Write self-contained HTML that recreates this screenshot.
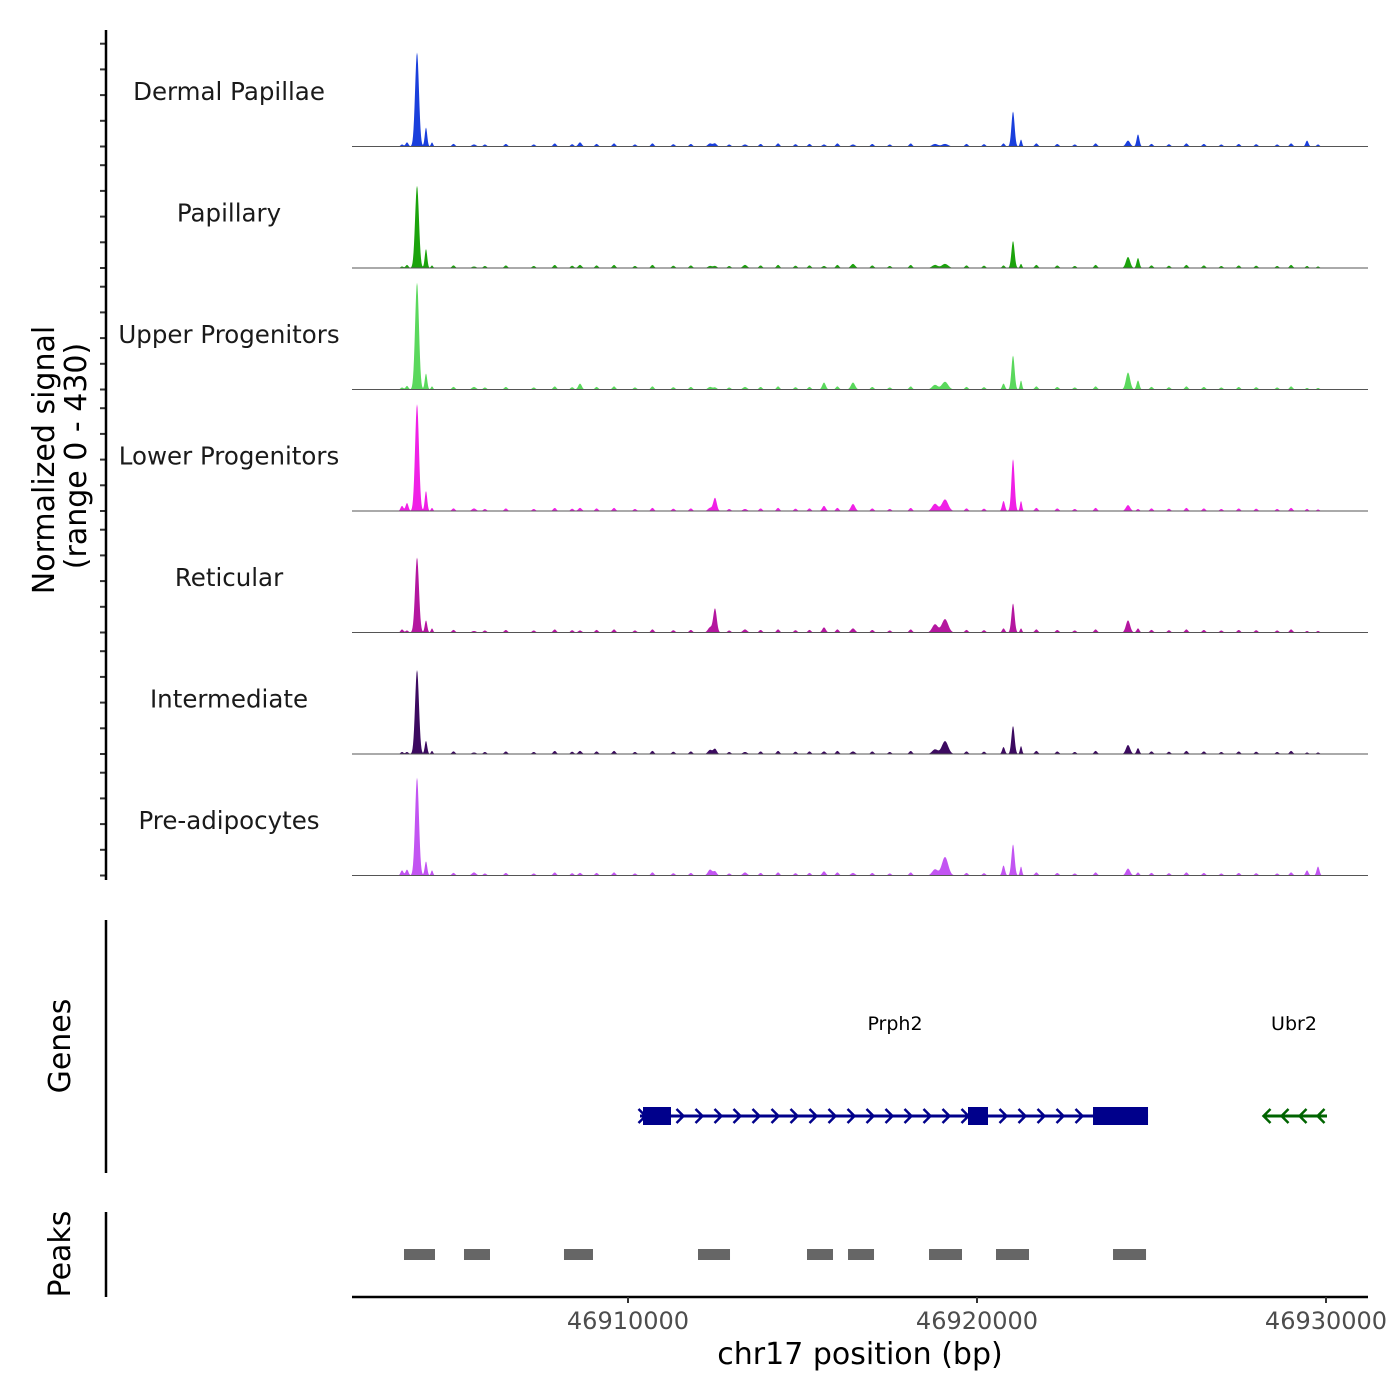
<!DOCTYPE html>
<html><head><meta charset="utf-8"><style>
html,body{margin:0;padding:0;background:#fff;}
svg{display:block;font-family:"DejaVu Sans","Liberation Sans",sans-serif;}
</style></head><body>
<svg id="chart" width="1400" height="1400" viewBox="0 0 1400 1400" xmlns="http://www.w3.org/2000/svg"></svg>
<script>
const trackNames = ["Dermal Papillae","Papillary","Upper Progenitors","Lower Progenitors","Reticular","Intermediate","Pre-adipocytes"];
const trackColors = ["#1a3fdc","#1ba30c","#5ad85c","#f020e6","#b4169f","#3c0a60","#c254f2"];
const peakPos = [46903525,46903668,46903955,46904212,46904384,46905588,46908625,46912493,46912350,46913352,46915616,46916447,46919083,46918796,46920760,46921032,46921261,46924327,46924613,46929456,46929771];
const peakSigma = [40,40,55,35,30,60,50,50,60,60,50,60,90,80,40,45,30,60,40,40,40];
const dpVals  = [8,16,366,74,16,8,16,12,12,8,8,8,10,10,12,136,27,23,47,23,8];
const papVals = [6,12,320,74,10,6,12,8,8,12,8,16,16,12,10,105,16,43,39,8,6];
const upVals  = [8,14,416,62,12,10,23,8,10,10,27,27,30,18,23,132,35,66,35,6,6];
const lowVals = [20,31,416,78,12,10,12,51,12,8,20,27,45,28,39,202,39,23,8,8,6];
const retVals = [12,8,292,47,16,6,8,93,20,12,20,16,52,32,16,113,16,47,16,6,6];
const intVals = [8,8,327,51,12,6,12,20,16,8,10,10,50,18,27,109,31,35,23,6,6];
const preVals = [20,23,381,55,20,12,10,16,23,12,16,10,72,24,39,121,35,27,12,20,35];
const trackValues = [dpVals,papVals,upVals,lowVals,retVals,intVals,preVals];
const noisePos = [46905000,46905900,46906500,46907300,46907900,46908400,46909100,46909600,46910200,46910700,46911300,46911800,46912900,46913800,46914300,46914800,46915200,46916000,46917000,46917500,46918100,46919700,46920200,46921700,46922300,46922800,46923400,46925000,46925500,46926000,46926500,46927000,46927500,46928000,46928600,46929000];
const noiseVals = [10,8,10,8,12,9,10,12,8,12,9,10,8,10,12,9,10,12,10,8,12,10,9,12,10,8,12,10,9,12,10,8,10,9,8,12];
const tickLabels = ["46910000","46920000","46930000"];
const tickValues = [46910000,46920000,46930000];
const geneNames = ["Prph2","Ubr2"];
const geneStarts = [46910344,46928252];
const geneEnds = [46924900,46930028];
const geneStrands = [1,-1];
const exonStarts = [46910430,46919742,46923324];
const exonEnds = [46911232,46920315,46924900];
const peakStarts = [46903582,46905301,46908166,46912006,46915129,46916304,46918625,46920544,46923897];
const peakEnds = [46904470,46906046,46908997,46912923,46915874,46917049,46919570,46921490,46924843];

const svg = document.getElementById('chart');
const NS = 'http://www.w3.org/2000/svg';
function mk(tag, attrs, parent){const e=document.createElementNS(NS,tag);for(const k in attrs)e.setAttribute(k,attrs[k]);(parent||svg).appendChild(e);return e;}
const X0=352,X1=1368,BP0=46902092,BP1=46931203;
const xs = bp => X0 + (bp-BP0)*(X1-X0)/(BP1-BP0);
const trackH=121.5, trackTop=25, unitPx=0.257;
const ys = (i,v) => trackTop + (i+1)*trackH - v*unitPx;

for(let i=0;i<trackNames.length;i++){
  const g=mk('g',{});
  
  
  const vals=trackValues[i];
  const base=ys(i,0);
  let d='M'+xs(46903400)+','+base;
  const firstX=Math.round(xs(46903400)), lastX=Math.round(xs(46929950));
  for(let px=firstX;px<=lastX;px+=0.5){
    const bp=BP0+(px-X0)*(BP1-BP0)/(X1-X0);
    let v=0;
    for(let k=0;k<peakPos.length;k++){const z=(bp-peakPos[k])/peakSigma[k];if(Math.abs(z)<5)v+=vals[k]*Math.exp(-0.5*z*z);}
    for(let k=0;k<noisePos.length;k++){const z=(bp-noisePos[k])/45;if(Math.abs(z)<5)v+=noiseVals[k]*Math.exp(-0.5*z*z);}
    d+=' L'+px+','+ys(i,v).toFixed(2);
  }
  d+=' L'+lastX+','+base+' Z';
  const p=mk('path',{d:d,fill:trackColors[i],stroke:'none'},g);
  
  
  const bl=mk('line',{x1:X0,x2:X1,y1:base,y2:base,stroke:'#555',"stroke-width":1},g);
  
  
  const t=mk('text',{x:229,y:trackTop+i*trackH+75,'text-anchor':'middle','font-size':24.5,fill:'#1a1a1a'},g);
  t.textContent=trackNames[i];
  
  
  for(let k=0;k<5;k++){
    const ty=base-k*100*unitPx;
    const tk=mk('line',{x1:100,x2:106,y1:ty,y2:ty,stroke:'#333','stroke-width':2},g);
    
    
  }
}
[[30,880,'signal-y-axis'],[920,1173,'genes-y-axis'],[1212,1297,'peaks-y-axis']].forEach(a=>{
  const l=mk('line',{x1:106,x2:106,y1:a[0],y2:a[1],stroke:'#000','stroke-width':2.5});
  
  
});
const yt=mk('text',{transform:'translate(54,460) rotate(-90)','text-anchor':'middle','font-size':30,fill:'#000'});
yt.textContent='Normalized signal';


const yt2=mk('text',{transform:'translate(86,456) rotate(-90)','text-anchor':'middle','font-size':30,fill:'#000'});
yt2.textContent='(range 0 - 430)';


const gt=mk('text',{transform:'translate(70,1046) rotate(-90)','text-anchor':'middle','font-size':30,fill:'#000'});
gt.textContent='Genes';


const pt=mk('text',{transform:'translate(70,1254) rotate(-90)','text-anchor':'middle','font-size':30,fill:'#000'});
pt.textContent='Peaks';



const gy=1116;
for(let i=0;i<geneNames.length;i++){
  const col=i===0?'#00008b':'#006400';
  const g=mk('g',{});
  
  
  const xa=xs(geneStarts[i]), xb=xs(geneEnds[i]);
  mk('line',{x1:xa,x2:xb,y1:gy,y2:gy,stroke:col,'stroke-width':3},g);
  const step=i===0?19:18;
  for(let x=xa+2;x<=xb;x+=step){
    const s=geneStrands[i];
    mk('polyline',{points:(x-3.5*s)+','+(gy-7)+' '+(x+3.5*s)+','+gy+' '+(x-3.5*s)+','+(gy+7),fill:'none',stroke:col,'stroke-width':2.5},g);
  }
  const lbl=mk('text',{x:(xa+xb)/2+(i===0?1:-2),y:1030,'text-anchor':'middle','font-size':19,fill:'#000'},g);
  lbl.textContent=geneNames[i];
  
  
}
for(let k=0;k<exonStarts.length;k++){
  const r=mk('rect',{x:xs(exonStarts[k]),y:gy-9,width:xs(exonEnds[k])-xs(exonStarts[k]),height:18,fill:'#00008b'});
  
  
}
for(let k=0;k<peakStarts.length;k++){
  const r=mk('rect',{x:xs(peakStarts[k]),y:1249,width:xs(peakEnds[k])-xs(peakStarts[k]),height:11,fill:'#666'});
  
  
}
const xa=mk('line',{x1:X0,x2:X1,y1:1297,y2:1297,stroke:'#000','stroke-width':2.5});


for(let k=0;k<tickValues.length;k++){
  const x=xs(tickValues[k]);
  const tk=mk('line',{x1:x,x2:x,y1:1297,y2:1303,stroke:'#333','stroke-width':2});
  
  
  const tl=mk('text',{x:x,y:1329,'text-anchor':'middle','font-size':24,fill:'#4d4d4d'});
  tl.textContent=tickLabels[k];
  
  
}
const xt=mk('text',{x:860,y:1364,'text-anchor':'middle','font-size':30,fill:'#000'});
xt.textContent='chr17 position (bp)';


</script>
</body></html>
